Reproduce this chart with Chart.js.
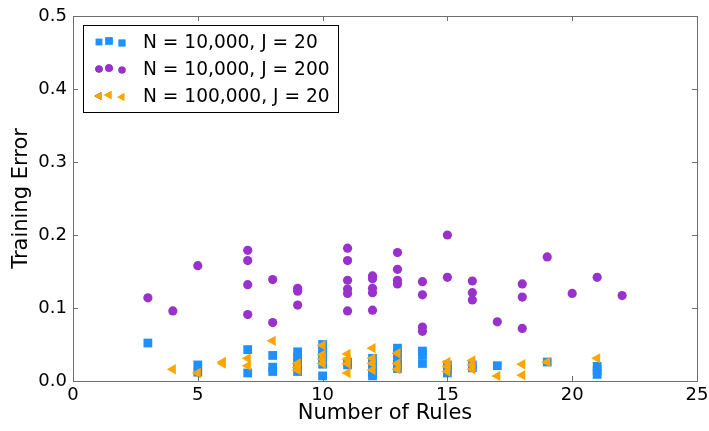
<!DOCTYPE html>
<html>
<head>
<meta charset="utf-8">
<script src="https://cdn.jsdelivr.net/npm/chart.js@4.4.1/dist/chart.umd.min.js"></script>
<style>
  html, body { margin: 0; padding: 0; background: #fff; }
  #wrap { width: 709px; height: 431px; }
</style>
</head>
<body>
<div id="wrap"><canvas id="scatterChart" width="709" height="431"></canvas></div>
<script>
// N = 10,000, J = 20
const rulesSmallJ = [3, 5, 5, 7, 7, 8, 8, 8, 9, 9, 9, 9, 9, 10, 10, 10, 10, 10, 10, 11, 11, 12, 12, 12, 12, 12, 13, 13, 13, 13, 13, 14, 14, 14, 15, 15, 15, 16, 16, 17, 19, 21, 21, 21];
const errorSmallJ = [0.052, 0.022, 0.012, 0.043, 0.011, 0.035, 0.019, 0.013, 0.040, 0.033, 0.026, 0.019, 0.013, 0.050, 0.043, 0.036, 0.029, 0.023, 0.007, 0.026, 0.022, 0.031, 0.024, 0.017, 0.011, 0.007, 0.045, 0.038, 0.030, 0.023, 0.017, 0.041, 0.036, 0.024, 0.022, 0.016, 0.011, 0.022, 0.018, 0.021, 0.026, 0.020, 0.014, 0.009];

// N = 10,000, J = 200
const rulesBigJ = [3, 4, 5, 7, 7, 7, 7, 8, 8, 9, 9, 9, 11, 11, 11, 11, 11, 11, 12, 12, 12, 12, 12, 13, 13, 13, 13, 14, 14, 14, 14, 15, 15, 16, 16, 16, 17, 18, 18, 18, 19, 20, 21, 22];
const errorBigJ = [0.114, 0.096, 0.158, 0.179, 0.165, 0.132, 0.091, 0.139, 0.080, 0.127, 0.123, 0.104, 0.182, 0.165, 0.138, 0.126, 0.120, 0.096, 0.144, 0.140, 0.127, 0.121, 0.097, 0.176, 0.153, 0.138, 0.133, 0.136, 0.118, 0.074, 0.068, 0.200, 0.142, 0.137, 0.121, 0.111, 0.081, 0.133, 0.115, 0.072, 0.170, 0.120, 0.142, 0.117];

// N = 100,000, J = 20
const rulesBigN = [4, 5, 6, 6, 7, 7, 8, 9, 9, 9, 10, 10, 10, 10, 11, 11, 11, 11, 12, 12, 12, 12, 13, 13, 13, 15, 15, 15, 16, 16, 16, 17, 18, 18, 19, 21];
const errorBigN = [0.016, 0.011, 0.026, 0.024, 0.031, 0.021, 0.055, 0.024, 0.019, 0.015, 0.049, 0.036, 0.030, 0.024, 0.037, 0.030, 0.024, 0.011, 0.045, 0.031, 0.024, 0.015, 0.038, 0.024, 0.016, 0.026, 0.020, 0.013, 0.028, 0.022, 0.016, 0.007, 0.023, 0.008, 0.026, 0.031];

const seriesLabels = ['N = 10,000, J = 20', 'N = 10,000, J = 200', 'N = 100,000, J = 20'];
const xTicks = [0, 5, 10, 15, 20, 25];
const yTicks = [0, 0.1, 0.2, 0.3, 0.4, 0.5];

const FONT = '"DejaVu Sans", sans-serif';
const FRAME = '#6e6e6e';

function toPoints(xs, ys) {
    return xs.map((x, i) => ({ x: x, y: ys[i] }));
}

// frame on all four sides, ticks pointing inward
const frameTicks = {
    id: 'frameTicks',
    afterDatasetsDraw(chart) {
        const { ctx, chartArea: a, scales } = chart;
        const len = 5;
        ctx.save();
        ctx.strokeStyle = FRAME;
        ctx.lineWidth = 1;
        ctx.beginPath();
        scales.x.ticks.forEach(t => {
            const px = Math.round(scales.x.getPixelForValue(t.value)) + 0.5;
            ctx.moveTo(px, a.bottom); ctx.lineTo(px, a.bottom - len);
            ctx.moveTo(px, a.top); ctx.lineTo(px, a.top + len);
        });
        scales.y.ticks.forEach(t => {
            const py = Math.round(scales.y.getPixelForValue(t.value)) + 0.5;
            ctx.moveTo(a.left, py); ctx.lineTo(a.left + len, py);
            ctx.moveTo(a.right, py); ctx.lineTo(a.right - len, py);
        });
        ctx.stroke();
        ctx.strokeRect(Math.round(a.left) + 0.5, Math.round(a.top) + 0.5,
            Math.round(a.right - a.left), Math.round(a.bottom - a.top));
        ctx.restore();
    }
};

// matplotlib-like legend: three markers per entry, upper left inside the axes
const scatterLegend = {
    id: 'scatterLegend',
    afterDraw(chart) {
        const { ctx, chartArea: a } = chart;
        const x0 = a.left + 10, y0 = a.top + 9, w = 255, h = 87;
        ctx.save();
        ctx.fillStyle = '#fff';
        ctx.fillRect(x0, y0, w, h);
        ctx.strokeStyle = '#000';
        ctx.lineWidth = 1;
        ctx.strokeRect(x0 + 0.5, y0 + 0.5, w, h);
        const sizes = [0.78, 0.84, 0.78];
        const dxs = [16, 26, 39];
        const dys = [0, -1, 1];
        chart.data.datasets.forEach((ds, i) => {
            const cy = y0 + 17 + i * 27;
            dxs.forEach((dx, k) => {
                Chart.helpers.drawPoint(ctx, {
                    pointStyle: ds.pointStyle,
                    rotation: ds.rotation || 0,
                    radius: ds.pointRadius * sizes[k],
                    borderWidth: 0
                }, x0 + dx, cy + dys[k]);
                ctx.fillStyle = ds.backgroundColor;
                ctx.fill();
            });
            ctx.fillStyle = '#000';
            ctx.font = '18.6px ' + FONT;
            ctx.textBaseline = 'middle';
            ctx.fillText(ds.label, x0 + 60, cy + 1);
        });
        ctx.restore();
    }
};

const ctx = document.getElementById('scatterChart').getContext('2d');
new Chart(ctx, {
    type: 'scatter',
    data: {
        datasets: [
            {
                label: seriesLabels[0],
                data: toPoints(rulesSmallJ, errorSmallJ),
                pointStyle: 'rect',
                pointRadius: 6.2,
                backgroundColor: '#1e90ff',
                borderWidth: 0,
                order: 3
            },
            {
                label: seriesLabels[1],
                data: toPoints(rulesBigJ, errorBigJ),
                pointStyle: 'circle',
                pointRadius: 4.6,
                backgroundColor: '#9932cc',
                borderWidth: 0,
                order: 2
            },
            {
                label: seriesLabels[2],
                data: toPoints(rulesBigN, errorBigN),
                pointStyle: 'triangle',
                rotation: -90,
                pointRadius: 6,
                backgroundColor: '#ffa500',
                borderWidth: 0,
                order: 1
            }
        ]
    },
    options: {
        responsive: false,
        maintainAspectRatio: false,
        animation: false,
        events: [],
        layout: { padding: { top: 16, right: 12, left: 0, bottom: 0 } },
        plugins: {
            legend: { display: false },
            tooltip: { enabled: false }
        },
        scales: {
            x: {
                type: 'linear',
                min: 0,
                max: 25,
                afterBuildTicks: s => { s.ticks = xTicks.map(v => ({ value: v })); },
                afterFit: s => { s.height = 50; s.paddingLeft = 0; s.paddingRight = 0; },
                grid: { display: false, drawTicks: false },
                border: { display: false },
                ticks: {
                    color: '#000',
                    padding: 4,
                    font: { family: FONT, size: 18 },
                    callback: v => String(v)
                },
                title: {
                    display: true,
                    text: 'Number of Rules',
                    color: '#000',
                    padding: { top: 0, bottom: 5 },
                    font: { family: FONT, size: 21 }
                }
            },
            y: {
                type: 'linear',
                min: 0,
                max: 0.5,
                afterBuildTicks: s => { s.ticks = yTicks.map(v => ({ value: v })); },
                afterFit: s => { s.width = 73; s.paddingTop = 0; s.paddingBottom = 0; },
                grid: { display: false, drawTicks: false },
                border: { display: false },
                ticks: {
                    color: '#000',
                    padding: 6,
                    font: { family: FONT, size: 18 },
                    callback: v => v.toFixed(1)
                },
                title: {
                    display: true,
                    text: 'Training Error',
                    color: '#000',
                    padding: { top: 9, bottom: 0 },
                    font: { family: FONT, size: 21 }
                }
            }
        }
    },
    plugins: [frameTicks, scatterLegend]
});
</script>
</body>
</html>
